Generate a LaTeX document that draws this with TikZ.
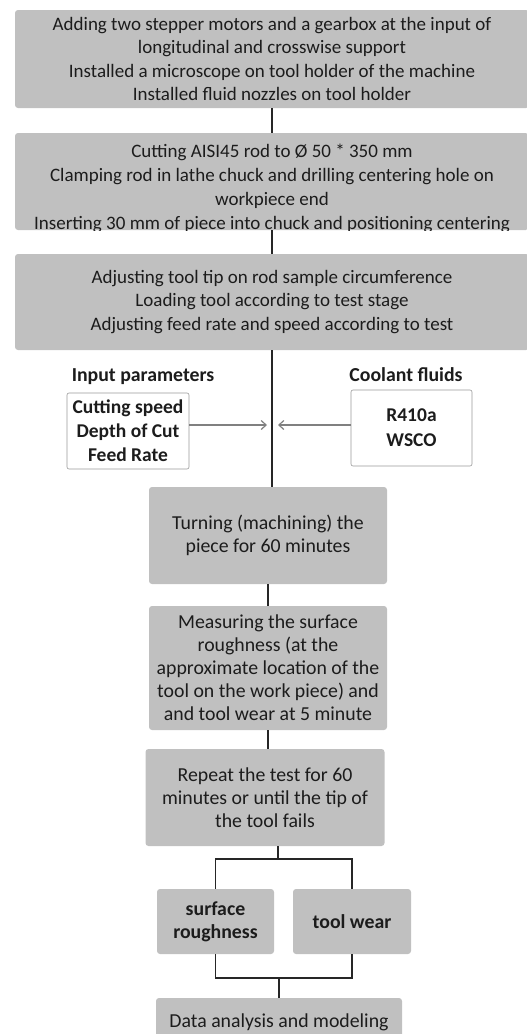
\documentclass[tikz,border=0pt]{standalone}
\usepackage{fontspec}
\setmainfont{Carlito}
\usetikzlibrary{calc,arrows.meta}
\definecolor{boxgray}{RGB}{192,192,192}
\definecolor{txtgray}{RGB}{28,28,28}
\definecolor{arrgray}{RGB}{128,128,128}
\tikzset{
  stage/.style={fill=boxgray, rounded corners=3pt, align=center, inner sep=0pt,
    text=txtgray, font=\fontsize{19.8}{23}\selectfont},
  widestage/.style={stage, minimum width=514pt, font=\fontsize{19}{23.5}\selectfont},
  inbox/.style={draw=arrgray!80, line width=0.6pt, fill=white, rounded corners=2pt,
    align=center, inner sep=0pt, text=txtgray, font=\fontsize{19.5}{24}\selectfont\bfseries},
  headlabel/.style={text=txtgray, font=\fontsize{19.8}{22}\selectfont\bfseries},
  link/.style={draw=black!85, line width=1.2pt},
  feed/.style={draw=arrgray, line width=1.2pt, -{Straight Barb[length=5pt,width=9pt]}},
}

\begin{document}
\begin{tikzpicture}[x=1pt,y=-1pt]
	\useasboundingbox (0,0) rectangle (527,1034);
	% preparation stages
	\node[widestage, minimum height=98pt] (setup) at (272,59)
		{Adding two stepper motors and a gearbox at the input of\\longitudinal and crosswise support\\Installed a microscope on tool holder of the machine\\Installed fluid nozzles on tool holder};
	\begin{scope}
		\clip[rounded corners=3pt] (15,133) rectangle (529,230);
		\node[widestage, minimum height=110pt, font=\fontsize{19}{24}\selectfont] (prep) at (272,188)
			{Cutting AISI45 rod to Ø 50 * 350 mm\\Clamping rod in lathe chuck and drilling centering hole on\\workpiece end\\Inserting 30 mm of piece into chuck and positioning centering};
	\end{scope}
	\node[widestage, minimum height=96pt] (adjust) at (272,302)
		{Adjusting tool tip on rod sample circumference\\Loading tool according to test stage\\Adjusting feed rate and speed according to test};
	\draw[link] (setup.south) -- (setup.south |- 0,133);
	\draw[link] (setup.south |- 0,230) -- (setup.south |- adjust.north);
	% inputs
	\node[headlabel] (inlabel) at (143,377) {Input parameters};
	\node[inbox, minimum width=122pt, minimum height=76pt] (inparam) at (128,431)
		{Cutting speed\\Depth of Cut\\Feed Rate};
	\node[headlabel] (coollabel) at (406,375) {Coolant fluids};
	\node[inbox, minimum width=121pt, minimum height=76pt, font=\fontsize{19.5}{25}\selectfont\bfseries] (coolant) at (411.5,428)
		{R410a\\WSCO};
	\coordinate (inhit) at (267,425);
	\coordinate (coolhit) at (278,425);
	% machining
	\node[stage, minimum width=238pt, minimum height=97pt] (turn) at (268,535.5)
		{Turning (machining) the\\piece for 60 minutes};
	\node[stage, minimum width=238pt, minimum height=124pt] (measure) at (268,668)
		{Measuring the surface\\roughness (at the\\approximate location of the\\tool on the work piece) and\\and tool wear at 5 minute};
	\node[stage, minimum width=239pt, minimum height=97pt] (repeat) at (265,797.5)
		{Repeat the test for 60\\minutes or until the tip of\\the tool fails};
	\draw[link] (adjust.south) -- (adjust.south |- turn.north);
	\draw[feed] (inparam.east |- inhit) -- (inhit);
	\draw[feed] (coolant.west |- coolhit) -- (coolhit);
	\draw[link] (turn.south) -- (measure.north);
	\draw[link] (measure.south) -- (measure.south |- repeat.north);
	% results
	\node[stage, minimum width=117pt, minimum height=65pt, font=\fontsize{19.8}{23}\selectfont\bfseries] (rough) at (215.5,921.5)
		{surface\\roughness};
	\node[stage, minimum width=118pt, minimum height=65pt, font=\fontsize{19.8}{23}\selectfont\bfseries] (wear) at (352,921.5)
		{tool wear};
	\node[stage, minimum width=246pt, minimum height=48pt] (analysis) at (279,1022)
		{Data analysis and modeling};
	\coordinate (split) at (278,859);
	\coordinate (merge) at (279,978);
	\draw[link] (repeat.south -| split) -- (split);
	\draw[link] (rough.north) |- (split) -| (wear.north);
	\draw[link] (rough.south) |- (merge) -| (wear.south);
	\draw[link] (merge) -- (analysis.north);
\end{tikzpicture}
\end{document}
